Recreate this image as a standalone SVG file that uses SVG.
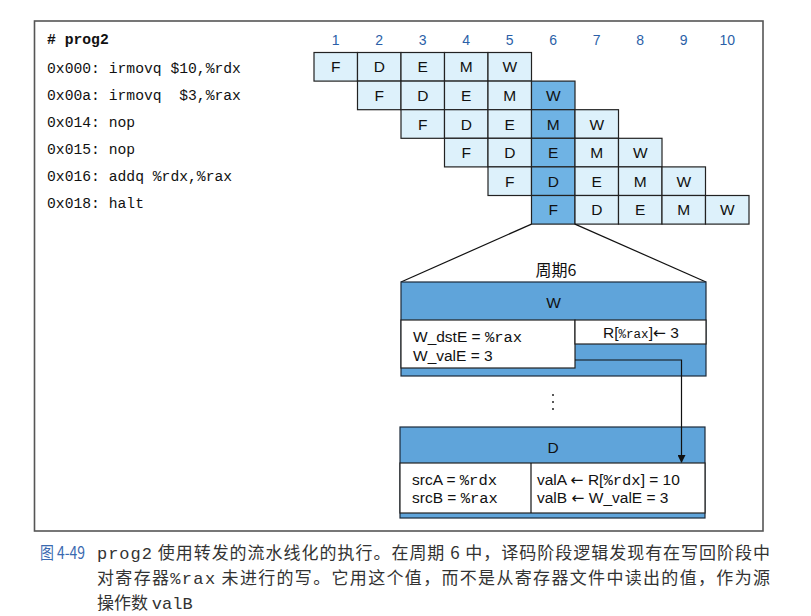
<svg xmlns="http://www.w3.org/2000/svg" width="811" height="616" viewBox="0 0 811 616">
<defs>
<style>
.code{font-family:"Liberation Mono","DejaVu Sans Mono",monospace;font-size:14.7px;fill:#111}
.num{font-family:"Liberation Sans",Arial,sans-serif;font-size:14px;fill:#2b5fa8;text-anchor:middle}
.cell{fill:#ddf1fb;stroke:#222;stroke-width:1.2}
.hot{fill:#6fb3e4;stroke:#222;stroke-width:1.2}
.st{font-family:"Liberation Sans",Arial,sans-serif;font-size:15.5px;fill:#111;text-anchor:middle}
.band{fill:#5fa4da;stroke:#1c2a3a;stroke-width:1.2}
.panel{fill:#ffffff;stroke:#222;stroke-width:1.2}
.lbl{font-family:"Liberation Sans",Arial,sans-serif;font-size:15.5px;fill:#111}
.mono{font-family:"Liberation Mono","DejaVu Sans Mono",monospace}
.arr{font-family:"DejaVu Sans",sans-serif}
.cap{font-family:"Noto Sans CJK SC","Noto Sans",sans-serif;font-size:17px;fill:#333}
.line{stroke:#111;stroke-width:1.2;fill:none}
</style>
<marker id="ah" markerWidth="8" markerHeight="8" refX="7" refY="4" orient="auto" markerUnits="userSpaceOnUse">
<path d="M0,0 L8,4 L0,8 Z" fill="#111"/>
</marker>
</defs>
<rect x="0" y="0" width="811" height="616" fill="#ffffff"/>
<rect id="frame" x="34.5" y="21" width="728.5" height="510" fill="none" stroke="#555" stroke-width="1.6"/>

<g id="program">
<text class="code" x="47" y="44" font-weight="bold"># prog2</text>
<text class="code" x="47" y="73">0x000: irmovq $10,%rdx</text>
<text class="code" x="47" y="100" xml:space="preserve">0x00a: irmovq  $3,%rax</text>
<text class="code" x="47" y="127">0x014: nop</text>
<text class="code" x="47" y="154">0x015: nop</text>
<text class="code" x="47" y="181">0x016: addq %rdx,%rax</text>
<text class="code" x="47" y="208">0x018: halt</text>
</g>

<g id="cycles">
<text class="num" x="335.75" y="45">1</text>
<text class="num" x="379.25" y="45">2</text>
<text class="num" x="422.75" y="45">3</text>
<text class="num" x="466.25" y="45">4</text>
<text class="num" x="509.75" y="45">5</text>
<text class="num" x="553.25" y="45">6</text>
<text class="num" x="596.75" y="45">7</text>
<text class="num" x="640.25" y="45">8</text>
<text class="num" x="683.75" y="45">9</text>
<text class="num" x="727.25" y="45">10</text>
</g>

<g id="row1">
<rect class="cell" x="314" y="52.5" width="43.5" height="28.6"/>
<rect class="cell" x="357.5" y="52.5" width="43.5" height="28.6"/>
<rect class="cell" x="401" y="52.5" width="43.5" height="28.6"/>
<rect class="cell" x="444.5" y="52.5" width="43.5" height="28.6"/>
<rect class="cell" x="488" y="52.5" width="43.5" height="28.6"/>
<text class="st" x="335.75" y="72.3">F</text>
<text class="st" x="379.25" y="72.3">D</text>
<text class="st" x="422.75" y="72.3">E</text>
<text class="st" x="466.25" y="72.3">M</text>
<text class="st" x="509.75" y="72.3">W</text>
</g>
<g id="row2">
<rect class="cell" x="357.5" y="81.1" width="43.5" height="28.6"/>
<rect class="cell" x="401" y="81.1" width="43.5" height="28.6"/>
<rect class="cell" x="444.5" y="81.1" width="43.5" height="28.6"/>
<rect class="cell" x="488" y="81.1" width="43.5" height="28.6"/>
<rect class="hot" x="531.5" y="81.1" width="43.5" height="28.6"/>
<text class="st" x="379.25" y="100.9">F</text>
<text class="st" x="422.75" y="100.9">D</text>
<text class="st" x="466.25" y="100.9">E</text>
<text class="st" x="509.75" y="100.9">M</text>
<text class="st" x="553.25" y="100.9">W</text>
</g>
<g id="row3">
<rect class="cell" x="401" y="109.7" width="43.5" height="28.6"/>
<rect class="cell" x="444.5" y="109.7" width="43.5" height="28.6"/>
<rect class="cell" x="488" y="109.7" width="43.5" height="28.6"/>
<rect class="hot" x="531.5" y="109.7" width="43.5" height="28.6"/>
<rect class="cell" x="575" y="109.7" width="43.5" height="28.6"/>
<text class="st" x="422.75" y="129.5">F</text>
<text class="st" x="466.25" y="129.5">D</text>
<text class="st" x="509.75" y="129.5">E</text>
<text class="st" x="553.25" y="129.5">M</text>
<text class="st" x="596.75" y="129.5">W</text>
</g>
<g id="row4">
<rect class="cell" x="444.5" y="138.3" width="43.5" height="28.6"/>
<rect class="cell" x="488" y="138.3" width="43.5" height="28.6"/>
<rect class="hot" x="531.5" y="138.3" width="43.5" height="28.6"/>
<rect class="cell" x="575" y="138.3" width="43.5" height="28.6"/>
<rect class="cell" x="618.5" y="138.3" width="43.5" height="28.6"/>
<text class="st" x="466.25" y="158.1">F</text>
<text class="st" x="509.75" y="158.1">D</text>
<text class="st" x="553.25" y="158.1">E</text>
<text class="st" x="596.75" y="158.1">M</text>
<text class="st" x="640.25" y="158.1">W</text>
</g>
<g id="row5">
<rect class="cell" x="488" y="166.9" width="43.5" height="28.6"/>
<rect class="hot" x="531.5" y="166.9" width="43.5" height="28.6"/>
<rect class="cell" x="575" y="166.9" width="43.5" height="28.6"/>
<rect class="cell" x="618.5" y="166.9" width="43.5" height="28.6"/>
<rect class="cell" x="662" y="166.9" width="43.5" height="28.6"/>
<text class="st" x="509.75" y="186.7">F</text>
<text class="st" x="553.25" y="186.7">D</text>
<text class="st" x="596.75" y="186.7">E</text>
<text class="st" x="640.25" y="186.7">M</text>
<text class="st" x="683.75" y="186.7">W</text>
</g>
<g id="row6">
<rect class="hot" x="531.5" y="195.5" width="43.5" height="28.6"/>
<rect class="cell" x="575" y="195.5" width="43.5" height="28.6"/>
<rect class="cell" x="618.5" y="195.5" width="43.5" height="28.6"/>
<rect class="cell" x="662" y="195.5" width="43.5" height="28.6"/>
<rect class="cell" x="705.5" y="195.5" width="43.5" height="28.6"/>
<text class="st" x="553.25" y="215.3">F</text>
<text class="st" x="596.75" y="215.3">D</text>
<text class="st" x="640.25" y="215.3">E</text>
<text class="st" x="683.75" y="215.3">M</text>
<text class="st" x="727.25" y="215.3">W</text>
</g>

<g id="zoom-lines">
<line class="line" x1="531.5" y1="224.1" x2="401" y2="282"/>
<line class="line" x1="575" y1="224.1" x2="706" y2="282"/>
<text x="556" y="276" text-anchor="middle" font-family="Noto Sans CJK SC, Noto Sans, sans-serif" font-size="16" fill="#111">周期6</text>
</g>

<g id="stage-W">
<rect class="band" x="401" y="282" width="305" height="94"/>
<text class="st" x="553.5" y="307.5" font-size="16">W</text>
<rect class="panel" x="401" y="320" width="174" height="48"/>
<rect class="panel" x="575" y="320" width="131" height="24"/>
<text class="lbl" x="413" y="342">W_dstE = <tspan class="mono">%rax</tspan></text>
<text class="lbl" x="413" y="360.5">W_valE = 3</text>
<text class="lbl" x="641" y="338" text-anchor="middle">R[<tspan class="mono" font-size="12.5">%rax</tspan>]<tspan class="arr">←</tspan> 3</text>
</g>

<g id="ellipsis">
<circle cx="553" cy="395" r="1" fill="#222"/>
<circle cx="553" cy="402" r="1" fill="#222"/>
<circle cx="553" cy="409" r="1" fill="#222"/>
</g>

<g id="stage-D">
<rect class="band" x="400" y="427" width="305" height="91"/>
<text class="st" x="553" y="452.5" font-size="16">D</text>
<rect class="panel" x="400" y="463" width="305" height="50"/>
<line class="line" x1="531" y1="463" x2="531" y2="513"/>
<text class="lbl" x="412" y="484.5">srcA = <tspan class="mono">%rdx</tspan></text>
<text class="lbl" x="412" y="503">srcB = <tspan class="mono">%rax</tspan></text>
<text class="lbl" x="537" y="484.5">valA <tspan class="arr">←</tspan> R[<tspan class="mono">%rdx</tspan>] = 10</text>
<text class="lbl" x="537" y="503">valB <tspan class="arr">←</tspan> W_valE = 3</text>
</g>

<g id="connectors">
<path class="line" d="M575,360 H681.5 V462" marker-end="url(#ah)"/>
</g>

<g id="caption">
<text class="cap" x="40" y="559" font-size="16" textLength="45" lengthAdjust="spacingAndGlyphs" style="fill:#3a6ab0">图 4-49</text>
<text class="cap" x="97" y="559" textLength="673" lengthAdjust="spacing"><tspan class="mono">prog2</tspan> 使用转发的流水线化的执行。在周期 6 中，译码阶段逻辑发现有在写回阶段中</text>
<text class="cap" x="97" y="584" textLength="673" lengthAdjust="spacing">对寄存器<tspan class="mono">%rax</tspan> 未进行的写。它用这个值，而不是从寄存器文件中读出的值，作为源</text>
<text class="cap" x="97" y="609">操作数 <tspan class="mono">valB</tspan></text>
</g>
</svg>
